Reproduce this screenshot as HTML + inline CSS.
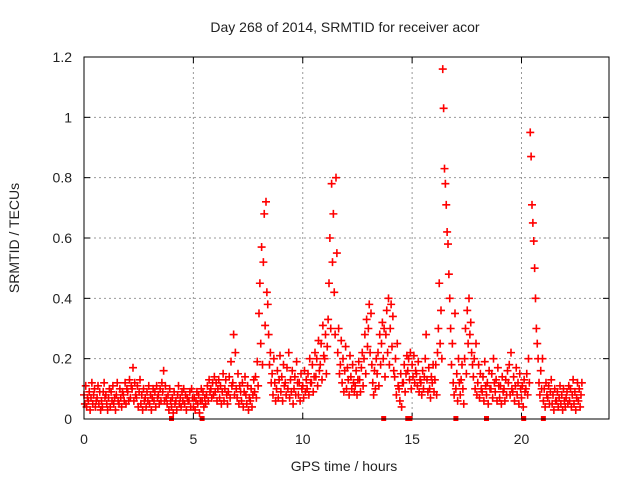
<!DOCTYPE html>
<html><head><meta charset="utf-8"><style>
body{margin:0;background:#fff}
svg text{font-family:"Liberation Sans",sans-serif;font-size:14px;fill:#222}
</style></head><body>
<svg id="chart" width="640" height="480" xmlns="http://www.w3.org/2000/svg">
<rect width="640" height="480" fill="#fff"/>
<text x="345" y="32" text-anchor="middle">Day 268 of 2014, SRMTID for receiver acor</text>
<text x="344" y="471" text-anchor="middle">GPS time / hours</text>
<text transform="translate(19,238) rotate(-90)" text-anchor="middle">SRMTID / TECUs</text>
<g id="grid"></g>
<g id="ticks"></g>
<g id="marks"></g>
<rect x="84" y="57" width="525" height="362" fill="none" stroke="#000" stroke-width="1"/>
</svg>
<script>
const xTicks = [0, 5, 10, 15, 20];
const yTicks = [0, 0.2, 0.4, 0.6, 0.8, 1, 1.2];
const binHours = 0.2;
const tecBins = [
[.08,.05,.11,.04,.07],[.06,.09,.03,.07,.12],[.05,.08,.10,.04,.06],[.07,.11,.05,.09,.03],[.06,.04,.09,.12,.07],
[.08,.05,.03,.07,.10],[.04,.09,.06,.11,.05],[.07,.03,.08,.12,.06],[.05,.10,.07,.04,.09],[.08,.06,.12,.05,.10],
[.09,.06,.13,.07,.11],[.10,.17,.06,.12,.08],[.07,.11,.04,.09,.13],[.05,.08,.03,.10,.06],[.07,.04,.09,.06,.11],
[.05,.08,.03,.07,.10],[.06,.09,.04,.11,.07],[.08,.05,.10,.06,.12],[.09,.16,.06,.11,.07],[.05,.08,.03,.10,.06],
[.04,.07,.02,.09,.05],[.06,.03,.08,.11,.05],[.07,.04,.09,.06,.10],[.05,.08,.03,.07,.06],[.06,.09,.04,.10,.07],
[.04,.07,.03,.06,.09],[.05,.08,.02,.06,.10],[.06,.09,.04,.07,.05],[.08,.11,.06,.13,.09],[.10,.07,.12,.08,.14],
[.09,.12,.06,.10,.13],[.07,.11,.05,.09,.15],[.06,.10,.13,.08,.05],[.09,.14,.07,.19,.11],[.12,.28,.08,.22,.10],
[.07,.15,.05,.11,.09],[.06,.12,.04,.09,.14],[.08,.05,.11,.03,.07],[.06,.10,.04,.08,.13],[.09,.14,.07,.19,.11],
[.35,.45,.25,.57,.18],[.52,.68,.31,.72,.42],[.38,.28,.18,.22,.12],[.15,.08,.20,.12,.06],[.10,.16,.07,.13,.21],
[.09,.14,.06,.18,.11],[.12,.08,.17,.10,.22],[.07,.13,.09,.16,.05],[.10,.14,.08,.19,.12],[.08,.12,.06,.15,.10],
[.11,.07,.16,.09,.13],[.10,.15,.08,.20,.12],[.12,.18,.09,.14,.22],[.14,.20,.11,.26,.16],[.18,.25,.13,.31,.21],
[.20,.28,.15,.24,.33],[.45,.60,.30,.78,.52],[.68,.42,.28,.80,.55],[.22,.30,.15,.18,.26],[.12,.20,.09,.16,.24],
[.10,.17,.13,.08,.21],[.14,.10,.18,.12,.09],[.11,.16,.08,.13,.19],[.13,.09,.17,.22,.11],[.20,.28,.15,.33,.24],
[.30,.38,.22,.35,.18],[.12,.08,.16,.10,.20],[.15,.22,.11,.28,.18],[.25,.32,.20,.30,.14],[.28,.36,.22,.40,.18],
[.30,.38,.24,.34,.16],[.14,.20,.08,.25,.11],[.10,.06,.15,.04,.12],[.12,.18,.09,.15,.21],[.16,.20,.13,.22,.10],
[.18,.14,.21,.12,.16],[.15,.11,.19,.09,.13],[.12,.08,.16,.10,.14],[.20,.28,.13,.09,.17],[.10,.07,.14,.12,.18],
[.09,.13,.18,.08,.22],[.30,.45,.25,.36,.20],[1.16,1.03,.83,.78,.71],[.62,.58,.48,.40,.30],[.18,.25,.12,.08,.35],
[.10,.15,.06,.20,.12],[.08,.13,.18,.10,.05],[.20,.30,.15,.36,.25],[.40,.28,.32,.22,.18],[.14,.20,.10,.25,.08],
[.12,.18,.07,.15,.10],[.09,.14,.06,.19,.11],[.08,.12,.05,.16,.10],[.10,.15,.07,.20,.12],[.09,.13,.06,.17,.11],
[.07,.11,.05,.14,.09],[.10,.06,.13,.08,.16],[.12,.18,.08,.22,.10],[.09,.14,.06,.11,.17],[.08,.12,.05,.15,.10],
[.07,.11,.04,.13,.09],[.10,.15,.08,.20,.12],[.95,.87,.71,.65,.59],[.50,.40,.30,.25,.20],[.12,.08,.16,.10,.20],
[.06,.10,.04,.12,.08],[.07,.11,.05,.09,.13],[.05,.08,.03,.10,.06],[.06,.09,.04,.07,.11],[.05,.08,.03,.10,.06],
[.04,.07,.09,.05,.11],[.06,.10,.04,.08,.13],[.05,.09,.03,.07,.12],[.06,.10,.04,.08,.12]
];
const zeroTimes = [4.0, 5.4, 13.7, 14.8, 14.9, 17.0, 18.4, 20.1, 21.0];

const X0=84, X1=609, Y0=419, Y1=57, XMAX=24, YMAX=1.2;
const xs = v => X0 + v/XMAX*(X1-X0);
const ys = v => Y0 - v/YMAX*(Y0-Y1);
const NS='http://www.w3.org/2000/svg';
function mk(tag, attrs, parent){const e=document.createElementNS(NS,tag);for(const k in attrs)e.setAttribute(k,attrs[k]);parent.appendChild(e);return e;}
const grid=document.getElementById('grid'), ticks=document.getElementById('ticks'), marks=document.getElementById('marks');

xTicks.forEach(t=>{
  const x=xs(t);
  if(t>0){const g=mk('line',{x1:x,x2:x,y1:Y0,y2:Y1,stroke:'#999','stroke-dasharray':'2,3'},grid);
  
  }
  mk('line',{x1:x,x2:x,y1:Y0,y2:Y0-6,stroke:'#000'},ticks);
  mk('line',{x1:x,x2:x,y1:Y1,y2:Y1+6,stroke:'#000'},ticks);
  const l=mk('text',{x:x,y:444,'text-anchor':'middle'},ticks);l.textContent=t;
  
  
});
yTicks.forEach(t=>{
  const y=ys(t);
  if(t>0&&t<YMAX){const g=mk('line',{x1:X0,x2:X1,y1:y,y2:y,stroke:'#999','stroke-dasharray':'2,3'},grid);
  
  }
  mk('line',{x1:X0,x2:X0+6,y1:y,y2:y,stroke:'#000'},ticks);
  mk('line',{x1:X1,x2:X1-6,y1:y,y2:y,stroke:'#000'},ticks);
  const l=mk('text',{x:72,y:y+5,'text-anchor':'end'},ticks);l.textContent=t;
  
  
});

let d='';
tecBins.forEach((bin,i)=>{
  bin.forEach((v,k)=>{
    const x=xs(i*binHours + k*binHours/5), y=ys(v);
    d+=`M${x-4},${y}h8M${x},${y-4}v8`;
  });
});
const p=mk('path',{d:d,stroke:'#ff0000','stroke-width':1.6,fill:'none'},marks);


zeroTimes.forEach(t=>{
  const r=mk('rect',{x:xs(t)-2.5,y:ys(0)-3,width:5,height:5,fill:'#ff0000'},marks);
  
  
});
</script>
</body></html>
